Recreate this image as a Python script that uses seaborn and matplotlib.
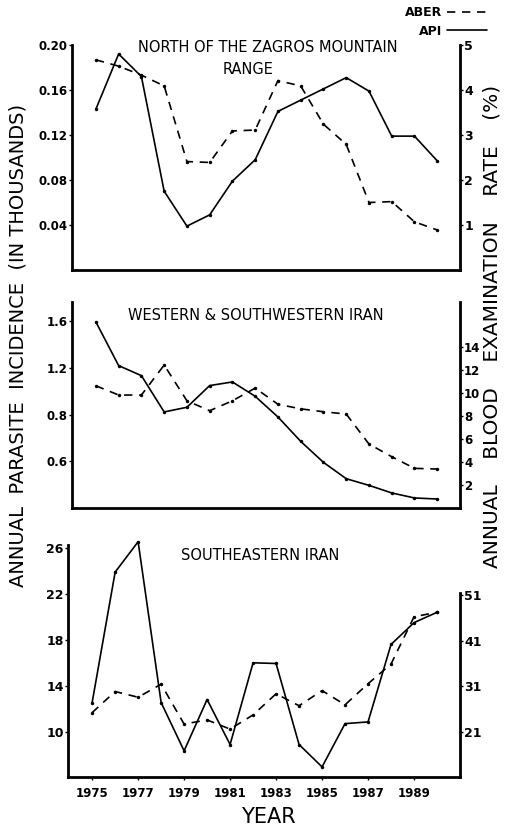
import matplotlib
matplotlib.use("Agg")
import matplotlib.pyplot as plt
import seaborn as sns
import numpy as np
import pandas as pd

years = list(range(1975, 1991))

# North of the Zagros Mountain range
north_api = [0.143, 0.192, 0.172, 0.070, 0.039, 0.049, 0.079, 0.098, 0.141, 0.151,
             0.161, 0.171, 0.159, 0.119, 0.119, 0.097]
north_aber = [4.67, 4.53, 4.33, 4.09, 2.41, 2.39, 3.09, 3.11, 4.21, 4.09,
              3.24, 2.79, 1.50, 1.52, 1.07, 0.89]

# Western & Southwestern Iran
west_api = [1.594, 1.22, 1.134, 0.823, 0.863, 1.049, 1.08, 0.957, 0.78, 0.571,
            0.391, 0.251, 0.194, 0.129, 0.086, 0.077]
west_aber = [10.6, 9.8, 9.8, 12.4, 9.3, 8.44, 9.3, 10.4, 9.0, 8.6,
             8.35, 8.15, 5.55, 4.45, 3.44, 3.38]

# Southeastern Iran
se_api = [12.54, 23.9, 26.55, 12.54, 8.33, 12.8, 8.88, 16.0, 15.94, 8.88,
          6.93, 10.7, 10.85, 17.6, 19.5, 20.4]
se_aber = [25.3, 29.9, 28.65, 31.5, 22.8, 23.7, 21.7, 24.8, 29.4, 26.8,
           30.1, 27.0, 31.6, 35.9, 46.2, 47.2]

titles = ["NORTH OF THE ZAGROS MOUNTAIN", "WESTERN & SOUTHWESTERN IRAN", "SOUTHEASTERN IRAN"]
title2 = "RANGE"

north_left_ticks = [0.04, 0.08, 0.12, 0.16, 0.20]
north_left_labels = ["0.04", "0.08", "0.12", "0.16", "0.20"]
north_right_ticks = [1, 2, 3, 4, 5]
west_left_ticks = [0.4, 0.8, 1.2, 1.6]
west_left_labels = ["0.6", "0.8", "1.2", "1.6"]
west_right_ticks = [2, 4, 6, 8, 10, 12, 14]
se_left_ticks = [10, 14, 18, 22, 26]
se_right_ticks = [21, 31, 41, 51]
year_ticks = [1975, 1977, 1979, 1981, 1983, 1985, 1987, 1989]

sns.set_theme(style="white")
plt.rcParams['font.family'] = ['DejaVu Sans']
plt.rcParams['text.color'] = 'black'
plt.rcParams['xtick.color'] = 'black'
plt.rcParams['ytick.color'] = 'black'

W, H = 511, 832
fig = plt.figure(figsize=(W / 100, H / 100), dpi=100)

def rect(l, r, t, b):
    return [l / W, 1 - b / H, (r - l) / W, (b - t) / H]

ax1 = fig.add_axes(rect(72, 460, 45, 270))
ax2 = fig.add_axes(rect(72, 460, 302, 508))
ax3 = fig.add_axes(rect(68, 460, 540, 777))

XLIM = (1973.95, 1991.0)
lw = 1.2
spw = 2.0

def draw(ax, api, aber, ylim_l, ylim_r, rbounds=None, lbounds=None):
    df = pd.DataFrame({"year": years, "api": api, "aber": aber})
    sns.lineplot(data=df, x="year", y="api", ax=ax, color="black", lw=lw,
                 marker="o", markersize=2.5, markeredgewidth=0, label="API", legend=False)
    axr = ax.twinx()
    sns.lineplot(data=df, x="year", y="aber", ax=axr, color="black", lw=lw,
                 linestyle=(0, (5, 4)), marker="o", markersize=2.5, markeredgewidth=0,
                 label="ABER", legend=False)
    ax.set_xlim(*XLIM)
    ax.set_ylim(*ylim_l)
    axr.set_ylim(*ylim_r)
    for a in (ax, axr):
        a.set_xlabel("")
        a.set_ylabel("")
        a.grid(False)
        a.spines["top"].set_visible(False)
        a.patch.set_visible(False)
    ax.spines["right"].set_visible(False)
    axr.spines["left"].set_visible(False)
    axr.spines["bottom"].set_visible(False)
    for s in ("left", "bottom"):
        ax.spines[s].set_linewidth(spw)
        ax.spines[s].set_color("black")
    axr.spines["right"].set_linewidth(spw)
    axr.spines["right"].set_color("black")
    if rbounds:
        axr.spines["right"].set_bounds(*rbounds)
    if lbounds:
        ax.spines["left"].set_bounds(*lbounds)
    ax.tick_params(axis="y", direction="out", length=2, width=1, pad=1, labelsize=8.5,
                   left=True, color="black")
    axr.tick_params(axis="y", direction="out", length=2, width=1, pad=1, labelsize=8.5,
                    right=True, color="black")
    return axr

r1 = draw(ax1, north_api, north_aber, (0, 0.20), (0, 5))
ax1.set_yticks(north_left_ticks)
ax1.set_yticklabels(north_left_labels, fontweight="bold", fontsize=8.5)
r1.set_yticks(north_right_ticks)
r1.set_yticklabels([str(v) for v in north_right_ticks], fontweight="bold", fontsize=9)

r2 = draw(ax2, west_api, west_aber, (0, 1.765), (0, 17.87))
ax2.set_yticks(west_left_ticks)
ax2.set_yticklabels(west_left_labels, fontweight="bold", fontsize=8.5)
r2.set_yticks(west_right_ticks)
r2.set_yticklabels([str(v) for v in west_right_ticks], fontweight="bold", fontsize=8.5)

r3 = draw(ax3, se_api, se_aber, (6.05, 26.7), (11.25, 62.96),
          rbounds=(11.25, 51.3), lbounds=(6.05, 26.3))
ax3.set_yticks(se_left_ticks)
ax3.set_yticklabels([str(v) for v in se_left_ticks], fontweight="bold", fontsize=9)
r3.set_yticks(se_right_ticks)
r3.set_yticklabels([str(v) for v in se_right_ticks], fontweight="bold", fontsize=9)

for ax in (ax1, ax2):
    ax.set_xticks([])
ax3.set_xticks(year_ticks)
ax3.set_xticklabels([str(y) for y in year_ticks], fontweight="bold", fontsize=8.5)
ax3.tick_params(axis="x", bottom=True, length=2, width=1, pad=5, color="black")

# panel titles
fig.text(268 / W, 1 - 47 / H, titles[0], ha="center", va="center", fontsize=10.5)
fig.text(248 / W, 1 - 70 / H, title2, ha="center", va="center", fontsize=10.5)
fig.text(256 / W, 1 - 315 / H, titles[1], ha="center", va="center", fontsize=10.5)
fig.text(260 / W, 1 - 556 / H, titles[2], ha="center", va="center", fontsize=10.5)

# axis labels
fig.text(18 / W, 1 - 345 / H, "ANNUAL  PARASITE  INCIDENCE  (IN THOUSANDS)",
         rotation=90, ha="center", va="center", fontsize=14)
fig.text(492 / W, 1 - 326 / H, "ANNUAL    BLOOD    EXAMINATION    RATE    (%)",
         rotation=90, ha="center", va="center", fontsize=14.5)
fig.text(268 / W, 1 - 817 / H, "YEAR", ha="center", va="center", fontsize=15)

# legend
h_api = ax1.get_lines()[0]
h_aber = r1.get_lines()[0]
leg = fig.legend([h_aber, h_api], ["ABER", "API"], loc="upper right",
                 bbox_to_anchor=(487 / W, 1 - 6 / H), frameon=False, markerfirst=False,
                 handlelength=3.2, handletextpad=0.4, labelspacing=0.45,
                 prop={"weight": "bold", "size": 9}, borderaxespad=0, borderpad=0)
for lh in leg.get_lines():
    lh.set_marker("")

fig.savefig("out.png", dpi=100)
